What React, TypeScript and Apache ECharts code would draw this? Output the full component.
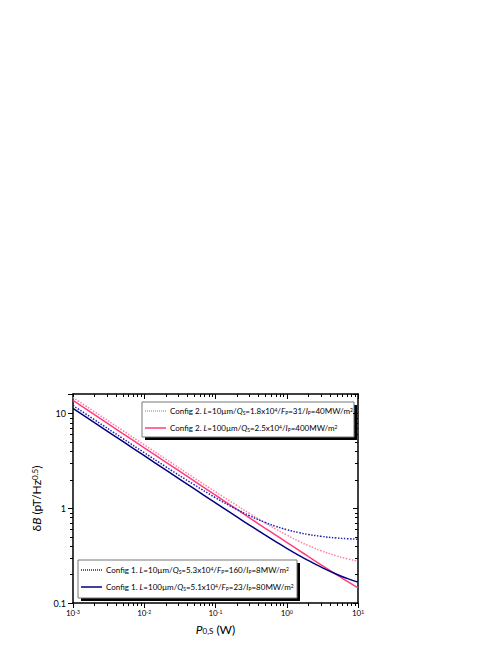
import React, { useEffect, useRef } from 'react';
import * as echarts from 'echarts';

// Power P_0,S (W)
const powerW = [0.001, 0.002, 0.005, 0.01, 0.02, 0.05, 0.1, 0.2, 0.3, 0.5, 0.7, 1, 1.5, 2, 3, 5, 7, 10];
// deltaB (pT/Hz^0.5)
const cfg2L10 = [14.7, 10.4, 6.58, 4.65, 3.3, 2.09, 1.489, 1.066, 0.88, 0.698, 0.603, 0.521, 0.446, 0.404, 0.357, 0.314, 0.293, 0.277];
const cfg2L100 = [13.7, 9.69, 6.13, 4.33, 3.064, 1.938, 1.371, 0.97, 0.792, 0.614, 0.52, 0.436, 0.357, 0.31, 0.254, 0.199, 0.17, 0.144];
const cfg1L10 = [12.11, 8.57, 5.43, 3.85, 2.74, 1.77, 1.29, 0.969, 0.833, 0.706, 0.644, 0.594, 0.551, 0.529, 0.505, 0.485, 0.477, 0.47];
const cfg1L100 = [11.3, 7.99, 5.05, 3.576, 2.53, 1.603, 1.137, 0.808, 0.664, 0.52, 0.444, 0.377, 0.316, 0.281, 0.24, 0.201, 0.182, 0.166];

const legendTop = [
  'Config 2. {i|L}=10µm/{i|Q}{sub|S}=1.8x10{sup|4}/{i|F}{sub|P}=31/{i|I}{sub|P}=40MW/m{sup|2}',
  'Config 2. {i|L}=100µm/{i|Q}{sub|S}=2.5x10{sup|4}/{i|I}{sub|P}=400MW/m{sup|2}',
];
const legendBottom = [
  'Config 1. {i|L}=10µm/{i|Q}{sub|S}=5.3x10{sup|4}/{i|F}{sub|P}=160/{i|I}{sub|P}=8MW/m{sup|2}',
  'Config 1. {i|L}=100µm/{i|Q}{sub|S}=5.1x10{sup|4}/{i|F}{sub|P}=23/{i|I}{sub|P}=80MW/m{sup|2}',
];

const colors = {
  c2L10: '#ff7fa6',
  c2L100: '#ff3d7f',
  c1L10: '#2020b0',
  c1L100: '#000080',
};

const xMin = 0.001, xMax = 10, yMin = 0.1, yMax = 16;

const xMinor: number[] = [];
for (let k = -3; k < 1; k++) for (let m = 2; m <= 9; m++) xMinor.push(m * Math.pow(10, k));
const yMinor: number[] = [];
for (let k = -1; k < 2; k++) for (let m = 2; m <= 9; m++) { const v = m * Math.pow(10, k); if (v < yMax) yMinor.push(v); }

const FONT = 'Lato';

const richLegend = {
  i: { fontStyle: 'italic', fontSize: 8, fontFamily: FONT, fill: '#000' },
  sub: { fontSize: 5, fontFamily: FONT, verticalAlign: 'bottom', fill: '#000' },
  sup: { fontSize: 5, fontFamily: FONT, verticalAlign: 'top', fill: '#000' },
};

function isDecade(v: number) {
  const e = Math.log10(v);
  return Math.abs(e - Math.round(e)) < 1e-6;
}

function legendBox(x: number, y: number, w: number, h: number, entries: { label: string; color: string; dashed: boolean }[], rowY: number[]) {
  const children: any[] = [
    { type: 'rect', shape: { x: x + 3, y: y + 3, width: w, height: h }, style: { fill: '#000' } },
    { type: 'rect', shape: { x, y, width: w, height: h }, style: { fill: '#fff', stroke: '#777', lineWidth: 1 } },
  ];
  entries.forEach((e, i) => {
    children.push({
      type: 'line',
      shape: { x1: x + 3, y1: rowY[i], x2: x + 24, y2: rowY[i] },
      style: { stroke: e.color, lineWidth: 1.5, lineDash: e.dashed ? [1, 1] : null },
    });
    children.push({
      type: 'text',
      x: x + 28,
      y: rowY[i],
      style: {
        text: e.label,
        fontSize: 8,
        fontFamily: FONT,
        fill: '#000',
        verticalAlign: 'middle',
        align: 'left',
        rich: richLegend,
      },
    });
  });
  return { type: 'group', children };
}

export default function App() {
  const ref = useRef<HTMLDivElement>(null);
  useEffect(() => {
    if (!ref.current) return;
    const chart = echarts.init(ref.current, null, { renderer: 'svg' });
    const mk = (arr: number[]) => powerW.map((p, i) => [p, arr[i]]);
    const axisLine = { lineStyle: { color: '#000', width: 1.5 } };
    chart.setOption({
      animation: false,
      backgroundColor: '#fff',
      grid: { left: 73, right: 146, top: 394, bottom: 49, containLabel: false },
      xAxis: [
        {
          type: 'log', logBase: 10, min: xMin, max: xMax, position: 'bottom',
          axisLine, splitLine: { show: false },
          axisTick: { inside: false, length: 5, lineStyle: { color: '#000', width: 1 } },
          axisLabel: {
            margin: 6, color: '#000', fontFamily: FONT, fontSize: 8,
            formatter: (v: number) => (isDecade(v) ? '10{sup|' + Math.round(Math.log10(v)) + '}' : ''),
            rich: { sup: { fontSize: 5, fontFamily: FONT, verticalAlign: 'top', color: '#000' } },
          },
          name: '{i|P}{sub|0,S} (W)', nameLocation: 'middle', nameGap: 20,
          nameTextStyle: {
            fontSize: 12, fontFamily: FONT, color: '#000',
            rich: {
              i: { fontStyle: 'italic', fontSize: 12, fontFamily: FONT, color: '#000' },
              sub: { fontSize: 8, fontFamily: FONT, verticalAlign: 'bottom', color: '#000' },
            },
          },
        },
        {
          type: 'log', logBase: 10, min: xMin, max: xMax, position: 'top',
          axisLine, splitLine: { show: false },
          axisTick: { inside: true, length: 5, lineStyle: { color: '#000', width: 1 } },
          axisLabel: { show: false },
        },
      ],
      yAxis: [
        {
          type: 'log', logBase: 10, min: yMin, max: yMax, position: 'left',
          axisLine, splitLine: { show: false },
          axisTick: { inside: false, length: 5, lineStyle: { color: '#000', width: 1 } },
          axisLabel: {
            margin: 7, color: '#000', fontFamily: FONT, fontSize: 9,
            formatter: (v: number) => (isDecade(v) ? (v < 1 ? v.toFixed(1) : String(Math.round(v))) : ''),
          },
          name: 'δ{i|B} (pT/Hz{sup|0.5})', nameLocation: 'middle', nameRotate: 90, nameGap: 21,
          nameTextStyle: {
            fontSize: 12, fontFamily: FONT, color: '#000',
            rich: {
              i: { fontStyle: 'italic', fontSize: 12, fontFamily: FONT, color: '#000' },
              sup: { fontSize: 8, fontFamily: FONT, verticalAlign: 'top', color: '#000' },
            },
          },
        },
        {
          type: 'log', logBase: 10, min: yMin, max: yMax, position: 'right',
          axisLine, splitLine: { show: false },
          axisTick: { inside: true, length: 5, lineStyle: { color: '#000', width: 1 } },
          axisLabel: { show: false },
        },
      ],
      series: [
        {
          type: 'custom', xAxisIndex: 0, yAxisIndex: 0, silent: true, clip: false,
          data: [[0.01, 1]],
          renderItem: (params: any, api: any) => {
            const cs = params.coordSys;
            const left = cs.x, top = cs.y, right = cs.x + cs.width, bottom = cs.y + cs.height;
            const st = { stroke: '#000', lineWidth: 1 };
            const ch: any[] = [];
            xMinor.forEach((v) => {
              const px = Math.round(api.coord([v, 1])[0]) + 0.5;
              ch.push({ type: 'line', shape: { x1: px, y1: bottom, x2: px, y2: bottom + 3 }, style: st });
              ch.push({ type: 'line', shape: { x1: px, y1: top, x2: px, y2: top + 3 }, style: st });
            });
            yMinor.forEach((v) => {
              const py = Math.round(api.coord([0.01, v])[1]) + 0.5;
              ch.push({ type: 'line', shape: { x1: left - 3, y1: py, x2: left, y2: py }, style: st });
              ch.push({ type: 'line', shape: { x1: right - 3, y1: py, x2: right, y2: py }, style: st });
            });
            return { type: 'group', children: ch };
          },
        },
        { type: 'line', name: 'c2L10', data: mk(cfg2L10), smooth: true, showSymbol: false, lineStyle: { color: colors.c2L10, width: 1.5, type: [1.5, 1.5] } },
        { type: 'line', name: 'c2L100', data: mk(cfg2L100), smooth: true, showSymbol: false, lineStyle: { color: colors.c2L100, width: 1.5 } },
        { type: 'line', name: 'c1L10', data: mk(cfg1L10), smooth: true, showSymbol: false, lineStyle: { color: colors.c1L10, width: 1.5, type: [1.5, 1.5] } },
        { type: 'line', name: 'c1L100', data: mk(cfg1L100), smooth: true, showSymbol: false, lineStyle: { color: colors.c1L100, width: 1.5 } },
      ],
      graphic: [
        legendBox(142, 402, 212, 35, [
          { label: legendTop[0], color: colors.c2L10, dashed: true },
          { label: legendTop[1], color: colors.c2L100, dashed: false },
        ], [411, 428]),
        legendBox(78, 560, 219, 38, [
          { label: legendBottom[0], color: colors.c1L10, dashed: true },
          { label: legendBottom[1], color: colors.c1L100, dashed: false },
        ], [570, 587]),
      ],
    });
    return () => chart.dispose();
  }, []);
  return <div ref={ref} style={{ position: 'fixed', left: 0, top: 0, width: 504, height: 652 }} />;
}
